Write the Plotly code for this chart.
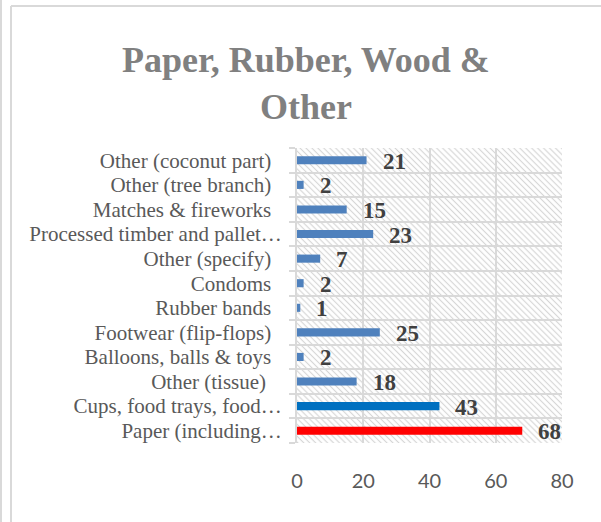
import base64
import plotly.graph_objects as go

# Categories listed bottom-to-top, with their counts and bar colours
categories = [
    "Paper (including…",
    "Cups, food trays, food…",
    "Other (tissue) ",
    "Balloons, balls & toys",
    "Footwear (flip-flops)",
    "Rubber bands",
    "Condoms",
    "Other (specify)",
    "Processed timber and pallet…",
    "Matches & fireworks",
    "Other (tree branch)",
    "Other (coconut part)",
]
counts = [68, 43, 18, 2, 25, 1, 2, 7, 23, 15, 2, 21]
bar_colors = ["#FF0000", "#0070C0"] + ["#4F81BD"] * 10
x_ticks = [0, 20, 40, 60, 80]

title_text = "Paper, Rubber, Wood &<br>Other"

# Figure geometry (pixels)
W, H = 601, 522
ML, MR, MT, MB = 297, 39, 148, 79
PW, PH = W - ML - MR, H - MT - MB

GRID = "#d9d9d9"


def px_x(px):
    return (px - ML) / PW


def px_y(py):
    return (H - MB - py) / PH


# Diagonal hatch fill for the plot area
hatch_svg = (
    f'<svg xmlns="http://www.w3.org/2000/svg" width="{PW}" height="{PH}" '
    f'viewBox="0 0 {PW} {PH}" preserveAspectRatio="none">'
    '<defs><pattern id="h" patternUnits="userSpaceOnUse" width="4.2" height="4.2" '
    'patternTransform="rotate(-45)">'
    '<line x1="2.1" y1="0" x2="2.1" y2="4.2" stroke="#d6d6d6" stroke-width="1.2"/>'
    '</pattern></defs>'
    '<rect width="100%" height="100%" fill="url(#h)"/></svg>'
)
hatch_uri = "data:image/svg+xml;base64," + base64.b64encode(hatch_svg.encode()).decode()

ypos = list(range(len(categories)))
tick_text = [c if c.endswith("…") else c + "\u00a0\u00a0" for c in categories]

fig = go.Figure(
    go.Bar(
        x=counts,
        y=ypos,
        orientation="h",
        width=0.33,
        marker=dict(color=bar_colors, line=dict(width=0)),
        hoverinfo="skip",
    )
)

# Value labels to the right of each bar
for yi, v in zip(ypos, counts):
    fig.add_annotation(
        x=v, y=yi, xref="x", yref="y", text=str(v), showarrow=False,
        xanchor="left", yanchor="middle", xshift=14, yshift=-1,
        font=dict(family="Liberation Serif", size=23, color="#404040", weight="bold"),
    )

# Chart frame lines
frame = dict(color=GRID, width=2)
fig.add_shape(type="line", xref="paper", yref="paper",
              x0=px_x(1), x1=px_x(1), y0=px_y(0), y1=px_y(H), line=frame)
fig.add_shape(type="line", xref="paper", yref="paper",
              x0=px_x(11), x1=px_x(11), y0=px_y(6), y1=px_y(H), line=frame)
fig.add_shape(type="line", xref="paper", yref="paper",
              x0=px_x(11), x1=px_x(W), y0=px_y(6), y1=px_y(6), line=frame)

fig.update_layout(
    width=W, height=H,
    margin=dict(l=ML, r=MR, t=MT, b=MB, autoexpand=False),
    paper_bgcolor="white",
    plot_bgcolor="white",
    showlegend=False,
    title=dict(
        text=title_text,
        x=306 / W, xref="container", xanchor="center",
        y=1 - 72 / H, yref="container", yanchor="middle",
        font=dict(family="Liberation Serif", size=36, color="#808080", weight="bold"),
    ),
    images=[dict(
        source=hatch_uri, xref="paper", yref="paper", x=0, y=1,
        sizex=1, sizey=1, sizing="stretch", xanchor="left", yanchor="top",
        layer="below",
    )],
    xaxis=dict(
        range=[0, 80],
        tickvals=x_ticks,
        ticktext=[str(t) for t in x_ticks],
        showgrid=True, gridcolor=GRID, gridwidth=2,
        zeroline=False, showline=False, ticks="",
        ticklabelstandoff=24,
        tickfont=dict(family="Lato", size=20, color="#595959"),
        fixedrange=True,
    ),
    yaxis=dict(
        range=[-0.5, len(categories) - 0.5],
        tickvals=ypos,
        ticktext=tick_text,
        ticks="",
        showgrid=False, zeroline=False,
        showline=True, linecolor=GRID, linewidth=2,
        ticklabelstandoff=9,
        tickfont=dict(family="Liberation Serif", size=21, color="#595959"),
        minor=dict(
            tickvals=[i - 0.5 for i in range(len(categories) + 1)],
            ticks="outside", ticklen=6, tickcolor=GRID, tickwidth=2,
            showgrid=True, gridcolor=GRID, gridwidth=2,
        ),
        fixedrange=True,
    ),
)

fig.write_html("out.html")
